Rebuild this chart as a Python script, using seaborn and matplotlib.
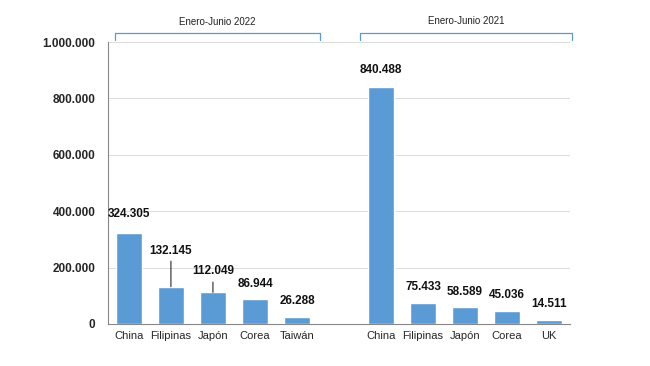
import matplotlib.pyplot as plt
import matplotlib.ticker as mticker
import pandas as pd
import seaborn as sns

# Chart values
periods = ["Enero-Junio 2022", "Enero-Junio 2021"]
countries_2022 = ["China", "Filipinas", "Japón", "Corea", "Taiwán"]
values_2022 = [324305, 132145, 112049, 86944, 26288]
countries_2021 = ["China", "Filipinas", "Japón", "Corea", "UK"]
values_2021 = [840488, 75433, 58589, 45036, 14511]
y_ticks = [0, 200000, 400000, 600000, 800000, 1000000]

# One slot per bar, with an empty slot between the two periods
labels = countries_2022 + [""] + countries_2021
values = values_2022 + [None] + values_2021
slots = [f"s{i}" for i in range(len(labels))]
data = pd.DataFrame({"slot": slots, "value": values})

# label offset in points above each bar (longer ones get a leader line)
label_offsets = [9, 26, 15, 7, 7, None, 8, 7, 7, 7, 7]

sns.set_style("white")
plt.rcParams["font.family"] = ["Liberation Sans", "DejaVu Sans"]

bar_color = "#5B9BD5"
fig = plt.figure(figsize=(6.5, 3.66), dpi=100)
ax = fig.add_axes([0.166, 0.115, 0.711, 0.770])

sns.barplot(data=data, x="slot", y="value", order=slots, color=bar_color,
            width=0.62, saturation=1, ax=ax)

ax.set_ylim(0, 1000000)
ax.set_xlim(-0.5, len(slots) - 0.5)
ax.set_yticks(y_ticks)
ax.yaxis.set_major_formatter(
    mticker.FuncFormatter(lambda v, p: f"{int(v):,}".replace(",", ".")))
for t in ax.get_yticklabels():
    t.set_fontweight("bold")
    t.set_fontsize(8.5)
ax.yaxis.grid(True, color="#dcdcdc", lw=0.7)
ax.set_axisbelow(True)

# category ticks at slot edges, names at slot centres
ax.set_xticks([i - 0.5 for i in range(len(slots) + 1)])
ax.set_xticklabels([])
ax.set_xticks(range(len(slots)), minor=True)
ax.set_xticklabels(labels, minor=True, fontsize=8)
ax.tick_params(axis="x", which="major", direction="out", length=4,
               color="#888888", width=0.8)
ax.tick_params(axis="x", which="minor", length=0, pad=5)
ax.tick_params(axis="y", direction="out", length=4, color="#888888",
               width=0.8, pad=5)
ax.set_xlabel("")
ax.set_ylabel("")

for side in ["top", "right"]:
    ax.spines[side].set_visible(False)
for side in ["left", "bottom"]:
    ax.spines[side].set_color("#888888")
    ax.spines[side].set_linewidth(0.8)

# value labels
for i, (v, off) in enumerate(zip(values, label_offsets)):
    if v is None:
        continue
    text = f"{v:,}".replace(",", ".")
    arrow = None
    if off > 14:
        arrow = dict(arrowstyle="-", color="#404040", lw=0.9, shrinkA=1, shrinkB=0)
    ax.annotate(text, xy=(i, v), xytext=(0, off), textcoords="offset points",
                ha="center", va="bottom" if arrow is None else "center",
                fontsize=8.5, fontweight="bold", color="#111111",
                arrowprops=arrow)

# period brackets above the plot
bracket_spans = [(-0.33, 4.55), (5.5, 10.55)]
for (x0, x1), name, ytxt in zip(bracket_spans, periods, [1071000, 1075000]):
    ax.plot([x0, x0, x1, x1], [1007000, 1032000, 1032000, 1007000],
            color=bar_color, lw=0.9, clip_on=False)
    ax.text((x0 + x1) / 2, ytxt, name, ha="center", va="center",
            fontsize=7, color="#222222", clip_on=False)

fig.savefig("out.png", dpi=100)
